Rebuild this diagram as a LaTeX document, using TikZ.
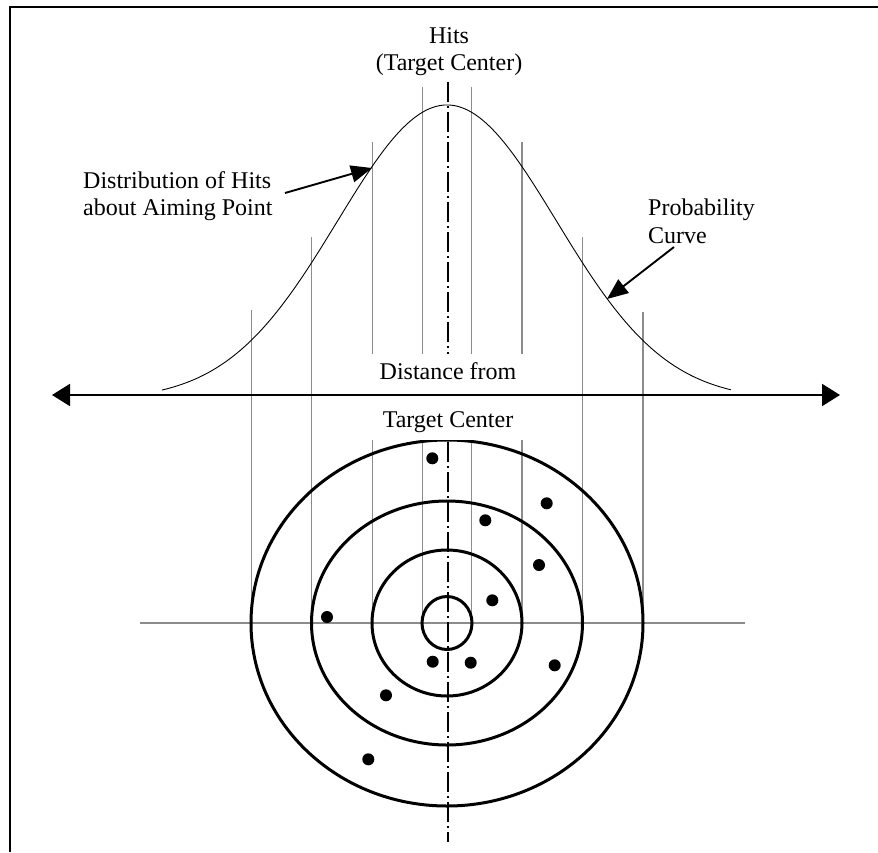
\documentclass[tikz,border=0pt]{standalone}
\usepackage{fontspec}
\setmainfont{Liberation Serif}
\usetikzlibrary{arrows.meta}
\begin{document}
\begin{tikzpicture}[x=1pt,y=-1pt,
  txt/.style={font=\fontsize{24}{27}\selectfont, inner sep=0pt},
  ring/.style={line width=3pt},
  guide/.style={draw=black!45, line width=1.5pt},
  hit/.style={circle, fill=black, minimum size=12pt, inner sep=0pt},
  pointer/.style={line width=1.9pt, -{Triangle[length=21pt,width=17pt]}},
  axis/.style={line width=1.9pt, {Triangle[length=18pt,width=22pt]}-{Triangle[length=18pt,width=22pt]}},
  centreline/.style={line width=1.2pt, dash pattern=on 20pt off 4pt on 2pt off 4pt}]
\useasboundingbox (0,0) rectangle (878,852);
% frame
\draw[line width=2pt] (10,852) -- (10,7) -- (878,7);
% guide lines
\coordinate (c) at (447,623);
\draw[guide] (140,623) -- (745,623);
\foreach \gx/\gt in {251.7/310, 311.7/237, 372.5/142, 422.5/87, 471.5/87, 522/142, 582.7/237, 643/312}
  \draw[guide] (\gx,\gt) -- (\gx,623);
% probability curve
\draw[line width=0.9pt] plot[domain=-285:284, samples=120, smooth]
  ({447+\x}, {400-295*exp(-0.5*(\x/109.5)^2)});
% target rings
\draw[ring] (c) ellipse [x radius=196, y radius=183];
\draw[ring] (c) ellipse [x radius=135.5, y radius=122];
\draw[ring] (c) ellipse [x radius=75, y radius=73];
\draw[ring] (c) ellipse [x radius=25, y radius=26.5];
% centre line
\coordinate (ct) at (448,82);
\coordinate (cb) at (448,842);
\draw[centreline] (ct) -- (cb);
% hits
\foreach \hx/\hy in {432.3/458.3, 546.7/503.3, 485.3/520.3, 539/565, 492.3/600.3, 327/617, 432.7/661.7, 470.7/662.7, 554.7/665.3, 386/695.3, 368.3/759.3}
  \node[hit] at (\hx,\hy) {};
% axis label box (white, hides guides)
\node[fill=white, minimum width=168pt, minimum height=86pt, inner sep=0pt] (dfbox) at (447,397) {};
\node[txt, anchor=base] (dfA) at (448,379) {Distance from};
\node[txt, anchor=base] (dfB) at (448,427) {Target Center};
% axis
\coordinate (aL) at (52,395);
\coordinate (aR) at (840,395);
\draw[axis] (aL) -- (aR);
% texts
\node[txt, anchor=base] (hitsA) at (449,43) {Hits};
\node[txt, anchor=base] (hitsB) at (449,70) {(Target Center)};
\node[txt, anchor=base west] (distA) at (83,188) {Distribution of Hits};
\node[txt, anchor=base west] (distB) at (83,215) {about Aiming Point};
\node[txt, anchor=base west] (probA) at (648,215) {Probability};
\node[txt, anchor=base west] (probB) at (648,243) {Curve};
% pointers
\coordinate (p1t) at (285,193);
\coordinate (p1h) at (372,168);
\draw[pointer] (p1t) -- (p1h);
\coordinate (p2t) at (674,247);
\coordinate (p2h) at (607,299);
\draw[pointer] (p2t) -- (p2h);
\end{tikzpicture}
\end{document}
